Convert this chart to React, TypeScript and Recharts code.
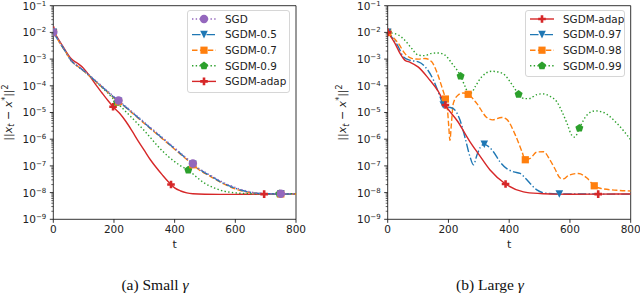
import React from "react";
import { LineChart, Line, XAxis, YAxis, ReferenceArea, Legend } from "recharts";

// (a) small gamma
const sgdT = [0, 20, 40, 60, 80, 100, 120, 140, 160, 180, 200, 215, 240, 260, 280, 300, 320, 340, 360, 380, 400, 420, 440, 460, 480, 500, 520, 540, 560, 580, 600, 620, 640, 660, 680, 700, 750, 800];
const sgdY = [1e-2, 4.6e-3, 2e-3, 8.7e-4, 5.6e-4, 3.8e-4, 2.45e-4, 1.55e-4, 9.8e-5, 6.2e-5, 3.9e-5, 2.8e-5, 1.65e-5, 1.06e-5, 6.8e-6, 4.3e-6, 2.75e-6, 1.78e-6, 1.14e-6, 7.3e-7, 4.7e-7, 3e-7, 1.92e-7, 1.23e-7, 8e-8, 5.8e-8, 4.3e-8, 3.2e-8, 2.4e-8, 1.9e-8, 1.55e-8, 1.3e-8, 1.13e-8, 1.01e-8, 9.5e-9, 9.2e-9, 9e-9, 9e-9];
const sgdm05Y = [1e-2, 4.4e-3, 1.95e-3, 8.5e-4, 5.5e-4, 3.7e-4, 2.35e-4, 1.48e-4, 9.3e-5, 5.9e-5, 3.7e-5, 2.65e-5, 1.56e-5, 1e-5, 6.4e-6, 4.1e-6, 2.6e-6, 1.68e-6, 1.08e-6, 6.9e-7, 4.45e-7, 2.85e-7, 1.82e-7, 1.16e-7, 7.6e-8, 5.5e-8, 4.1e-8, 3e-8, 2.25e-8, 1.8e-8, 1.45e-8, 1.22e-8, 1.07e-8, 9.8e-9, 9.3e-9, 9.1e-9, 8.9e-9, 8.9e-9];
const sgdm07Y = [1e-2, 4.3e-3, 1.9e-3, 8.4e-4, 5.4e-4, 3.6e-4, 2.3e-4, 1.44e-4, 9e-5, 5.7e-5, 3.55e-5, 2.55e-5, 1.5e-5, 9.6e-6, 6.1e-6, 3.9e-6, 2.48e-6, 1.6e-6, 1.03e-6, 6.6e-7, 4.2e-7, 2.7e-7, 1.73e-7, 1.1e-7, 7.2e-8, 5.2e-8, 3.9e-8, 2.85e-8, 2.15e-8, 1.7e-8, 1.38e-8, 1.17e-8, 1.04e-8, 9.6e-9, 9.2e-9, 9e-9, 8.9e-9, 8.9e-9];
const sgdm09T = [0, 20, 40, 60, 80, 100, 120, 140, 160, 180, 200, 210, 220, 240, 260, 280, 300, 320, 340, 360, 380, 400, 420, 445, 470, 500, 530, 560, 600, 650, 700, 745, 800];
const sgdm09Y = [1e-2, 4.4e-3, 1.9e-3, 8.5e-4, 5.4e-4, 3.6e-4, 2.3e-4, 1.42e-4, 8.8e-5, 5.3e-5, 3.1e-5, 2.4e-5, 1.8e-5, 1.05e-5, 6.2e-6, 3.6e-6, 2.1e-6, 1.15e-6, 6.3e-7, 3.6e-7, 2.2e-7, 1.45e-7, 1e-7, 7e-8, 4e-8, 2.2e-8, 1.5e-8, 1.15e-8, 9.8e-9, 9.1e-9, 9e-9, 9e-9, 9e-9];
const adapAT = [0, 15, 30, 45, 60, 80, 100, 120, 140, 160, 180, 197, 220, 240, 260, 280, 300, 320, 340, 360, 388, 400, 420, 440, 460, 500, 550, 600, 650, 695, 750, 800];
const adapAY = [1.2e-2, 6e-3, 3.2e-3, 1.7e-3, 1e-3, 7e-4, 4.5e-4, 2.3e-4, 1.1e-4, 5.5e-5, 2.8e-5, 1.65e-5, 9e-6, 4.5e-6, 2e-6, 8.5e-7, 3.8e-7, 1.7e-7, 8.5e-8, 4.5e-8, 2e-8, 1.5e-8, 1.15e-8, 9.8e-9, 9.1e-9, 8.7e-9, 8.6e-9, 8.6e-9, 8.7e-9, 8.8e-9, 8.9e-9, 9e-9];

// (b) large gamma
const adapBT = [0, 24, 41, 57, 74, 101, 134, 167, 190, 230, 271, 300, 337, 388, 447, 502, 550, 600, 693, 750, 800];
const adapBY = [1e-2, 3.9e-3, 1.6e-3, 9e-4, 7.6e-4, 5e-4, 1.9e-4, 6e-5, 1.9e-5, 4.7e-6, 8e-7, 2.7e-7, 7e-8, 2.1e-8, 1.07e-8, 9.2e-9, 8.8e-9, 8.7e-9, 8.8e-9, 8.9e-9, 8.9e-9];
const sgdm097T = [0, 35, 52, 74, 101, 123, 150, 172, 183, 200, 216, 238, 255, 271, 282, 295, 305, 318, 330, 348, 370, 392, 415, 436, 455, 469, 491, 520, 565, 600, 700, 800];
const sgdm097Y = [1e-2, 2.9e-3, 1.2e-3, 9e-4, 7.9e-4, 5.2e-4, 1.7e-4, 4e-5, 1.9e-5, 1.6e-5, 1.4e-5, 5.2e-6, 1.1e-6, 2.2e-7, 1.1e-7, 2.8e-7, 5e-7, 6.5e-7, 5.5e-7, 3.4e-7, 1.4e-7, 7.9e-8, 6e-8, 5.2e-8, 3.3e-8, 2.2e-8, 1.26e-8, 9.5e-9, 8.9e-9, 8.9e-9, 8.8e-9, 8.8e-9];
const sgdm098T = [0, 35, 57, 79, 101, 123, 145, 161, 178, 190, 197, 201, 205, 209, 216, 232, 249, 265, 293, 326, 345, 375, 392, 420, 442, 453, 469, 491, 513, 535, 550, 568, 580, 595, 628, 656, 680, 700, 755, 800];
const sgdm098Y = [1e-2, 3.9e-3, 1.6e-3, 1.07e-3, 1e-3, 1.05e-3, 7.9e-4, 3.4e-4, 9.3e-5, 3.2e-5, 1.2e-5, 3e-6, 9e-7, 3e-6, 2.2e-5, 4.5e-5, 5.4e-5, 4.8e-5, 2.2e-5, 6.5e-6, 5.3e-6, 6.5e-6, 5.5e-6, 1.45e-6, 3.4e-7, 1.7e-7, 1.9e-7, 3.3e-7, 3.4e-7, 1.6e-7, 8e-8, 3.5e-8, 3.3e-8, 4.4e-8, 5.2e-8, 3.5e-8, 1.8e-8, 1.45e-8, 1.22e-8, 1.15e-8];
const sgdm099T = [0, 35, 57, 79, 101, 123, 145, 167, 189, 211, 240, 255, 266, 276, 288, 310, 343, 376, 414, 431, 450, 465, 491, 510, 535, 557, 575, 590, 606, 616, 631, 656, 683, 711, 754, 800];
const sgdm099Y = [1e-2, 8e-3, 5e-3, 2.5e-3, 1.4e-3, 1.35e-3, 1.65e-3, 1.7e-3, 1.4e-3, 7e-4, 2.3e-4, 9.3e-5, 5.2e-5, 5.5e-5, 9.3e-5, 2.2e-4, 3.5e-4, 3e-4, 9.3e-5, 4.8e-5, 3.3e-5, 3.3e-5, 4.7e-5, 5e-5, 4e-5, 2.5e-5, 1e-5, 4e-6, 1.4e-6, 1.2e-6, 2.6e-6, 8e-6, 1.15e-5, 1e-5, 4e-6, 9.5e-7];

const xTicks = [0, 200, 400, 600, 800];
const yMajor = [1e-9, 1e-8, 1e-7, 1e-6, 1e-5, 1e-4, 1e-3, 1e-2, 1e-1];
const yMinorSteps = [2, 3, 4, 5, 6, 7, 8, 9];
const yTicks = yMajor.flatMap((m, i) => (i < yMajor.length - 1 ? [m, ...yMinorSteps.map((k) => k * m)] : [m]));

const PURPLE = "#9467bd";
const BLUE = "#1f77b4";
const ORANGE = "#ff7f0e";
const GREEN = "#2ca02c";
const RED = "#d62728";

const DOTTED = "1.4 2.3";
const DASHED = "5.5 2.4";
const DASHDOT = "8.5 2.3 1.4 2.3";

const FONT = "DejaVu Sans";
const TEXT = "#222";

type Series = { name: string; color: string; dash?: string; marker: string; t: number[]; v: number[]; marks: number[] };

const seriesA: Series[] = [
  { name: "SGD", color: PURPLE, dash: DOTTED, marker: "o", t: sgdT, v: sgdY, marks: [0, 215, 460, 750] },
  { name: "SGDM-0.5", color: BLUE, dash: DASHDOT, marker: "v", t: sgdT, v: sgdm05Y, marks: [0, 215, 460, 750] },
  { name: "SGDM-0.7", color: ORANGE, dash: DASHED, marker: "s", t: sgdT, v: sgdm07Y, marks: [0, 215, 460, 750] },
  { name: "SGDM-0.9", color: GREEN, dash: DOTTED, marker: "p", t: sgdm09T, v: sgdm09Y, marks: [0, 210, 445, 745] },
  { name: "SGDM-adap", color: RED, marker: "P", t: adapAT, v: adapAY, marks: [0, 197, 388, 695] },
];

const seriesB: Series[] = [
  { name: "SGDM-adap", color: RED, marker: "P", t: adapBT, v: adapBY, marks: [0, 190, 388, 693] },
  { name: "SGDM-0.97", color: BLUE, dash: DASHDOT, marker: "v", t: sgdm097T, v: sgdm097Y, marks: [0, 183, 318, 565] },
  { name: "SGDM-0.98", color: ORANGE, dash: DASHED, marker: "s", t: sgdm098T, v: sgdm098Y, marks: [0, 190, 265, 453, 680] },
  { name: "SGDM-0.99", color: GREEN, dash: DOTTED, marker: "p", t: sgdm099T, v: sgdm099Y, marks: [0, 240, 431, 631] },
];

function Marker({ kind, cx, cy, color }: { kind: string; cx: number; cy: number; color: string }) {
  if (kind === "o") return <circle cx={cx} cy={cy} r={4.2} fill={color} />;
  if (kind === "v") {
    const h = 3.8;
    return <polygon points={`${cx - h},${cy - h} ${cx + h},${cy - h} ${cx},${cy + h}`} fill={color} />;
  }
  if (kind === "s") return <rect x={cx - 3.6} y={cy - 3.6} width={7.2} height={7.2} fill={color} />;
  if (kind === "p") {
    const pts = [0, 1, 2, 3, 4]
      .map((i) => {
        const a = -Math.PI / 2 + (i * 2 * Math.PI) / 5;
        return `${cx + 4.2 * Math.cos(a)},${cy + 4.2 * Math.sin(a)}`;
      })
      .join(" ");
    return <polygon points={pts} fill={color} />;
  }
  // filled plus
  const a = 3.8;
  const b = 1.3;
  return (
    <path
      d={`M${cx - b},${cy - a}H${cx + b}V${cy - b}H${cx + a}V${cy + b}H${cx + b}V${cy + a}H${cx - b}V${cy + b}H${cx - a}V${cy - b}H${cx - b}Z`}
      fill={color}
    />
  );
}

function YTick(props: any) {
  const { x, y, payload } = props;
  const v = payload.value;
  const lg = Math.log10(v);
  const e = Math.round(lg);
  const major = Math.abs(lg - e) < 1e-6;
  const ax = x + 7;
  return (
    <g>
      <line x1={ax} x2={ax - (major ? 3.5 : 2)} y1={y} y2={y} stroke="#000" strokeWidth={major ? 0.8 : 0.6} />
      {major && (
        <text x={x} y={y} dy="0.38em" textAnchor="end" fontFamily={FONT} fontSize={10.5} fill={TEXT}>
          10
          <tspan fontSize={7} dy={-4}>
            {"\u2212" + -e}
          </tspan>
        </text>
      )}
    </g>
  );
}

function YLabel({ x, y }: { x: number; y: number }) {
  return (
    <text transform={`translate(${x},${y}) rotate(-90)`} textAnchor="middle" dy="0.35em" fontFamily={FONT} fontSize={11} fill={TEXT}>
      ||<tspan fontStyle="italic">x</tspan>
      <tspan fontStyle="italic" fontSize={8} dy={2.5}>
        t
      </tspan>
      <tspan dy={-2.5}>{" \u2212 "}</tspan>
      <tspan fontStyle="italic">x</tspan>
      <tspan fontSize={8} dy={-4}>
        *
      </tspan>
      <tspan dy={4}>||</tspan>
      <tspan fontSize={8} dy={-4}>
        2
      </tspan>
    </text>
  );
}

function LegendBox({ items, w, h }: { items: Series[]; w: number; h: number }) {
  return (
    <svg width={w} height={h} style={{ display: "block" }}>
      <rect x={0.5} y={0.5} width={w - 1} height={h - 1} rx={2.5} fill="#fff" fillOpacity={0.8} stroke="#ccc" strokeWidth={0.8} />
      {items.map((s, i) => {
        const cy = 9 + i * 15.6;
        return (
          <g key={s.name}>
            <line x1={5} x2={29} y1={cy} y2={cy} stroke={s.color} strokeWidth={1.4} strokeDasharray={s.dash} />
            <Marker kind={s.marker} cx={17} cy={cy} color={s.color} />
            <text x={38} y={cy} dy="0.36em" fontFamily={FONT} fontSize={10.4} fill={TEXT}>
              {s.name}
            </text>
          </g>
        );
      })}
    </svg>
  );
}

function Panel({ left, yw, rm, series, legend }: { left: number; yw: number; rm: number; series: Series[]; legend: { x: number; y: number; w: number; h: number } }) {
  const drawOrder = [...series].reverse();
  return (
    <div style={{ position: "absolute", left, top: 0 }}>
      <LineChart width={320} height={260} margin={{ top: 5.7, right: rm, bottom: 10.7, left: 0 }}>
        <XAxis
          dataKey="t"
          type="number"
          domain={[0, 800]}
          ticks={xTicks}
          allowDataOverflow
          height={30}
          tickSize={3.5}
          tickMargin={3}
          axisLine={false}
          tickLine={{ stroke: "#000", strokeWidth: 0.8 }}
          tick={{ fontSize: 10.5, fill: TEXT, fontFamily: FONT }}
          label={{ value: "t", position: "insideBottom", offset: 1, fontSize: 11, fill: TEXT, fontFamily: FONT }}
        />
        <YAxis
          type="number"
          scale="log"
          domain={[1e-9, 1e-1]}
          allowDataOverflow
          ticks={yTicks}
          interval={0}
          width={yw}
          tickSize={3.5}
          tickMargin={3.5}
          axisLine={false}
          tickLine={false}
          tick={(p: any) => <YTick {...p} />}
          label={() => <YLabel x={yw - 45.5} y={112.5} />}
        />
        {drawOrder.map((s) => (
          <Line
            key={s.name}
            data={s.t.map((t, i) => ({ t, v: s.v[i] }))}
            dataKey="v"
            name={s.name}
            type="monotone"
            stroke={s.color}
            strokeWidth={1.4}
            strokeDasharray={s.dash}
            isAnimationActive={false}
            activeDot={false}
            dot={(p: any) =>
              s.marks.includes(p.payload.t) ? (
                <Marker key={p.index} kind={s.marker} cx={p.cx} cy={p.cy} color={s.color} />
              ) : (
                <g key={p.index} />
              )
            }
          />
        ))}
        <ReferenceArea x1={0} x2={800} y1={1e-9} y2={1e-1} fill="none" stroke="#000" strokeWidth={0.8} ifOverflow="visible" />
        <Legend
          layout="vertical"
          align="center"
          verticalAlign="middle"
          wrapperStyle={{ left: legend.x, top: legend.y, width: legend.w, height: legend.h }}
          content={() => <LegendBox items={series} w={legend.w} h={legend.h} />}
        />
      </LineChart>
    </div>
  );
}

export default function App() {
  const cap: React.CSSProperties = {
    position: "absolute",
    top: 276,
    width: 200,
    textAlign: "center",
    fontFamily: "Liberation Serif",
    fontSize: 15.5,
    color: "#111",
    whiteSpace: "nowrap",
  };
  return (
    <div style={{ position: "absolute", left: 0, top: 0, width: 640, height: 294, background: "#fff", overflow: "hidden" }}>
      <Panel left={0} yw={53.3} rm={24} series={seriesA} legend={{ x: 187, y: 10, w: 103, h: 83 }} />
      <Panel left={320} yw={67.7} rm={9.3} series={seriesB} legend={{ x: 205, y: 10, w: 100, h: 67 }} />
      <div style={{ ...cap, left: 55 }}>
        (a) Small <i>γ</i>
      </div>
      <div style={{ ...cap, left: 390 }}>
        (b) Large <i>γ</i>
      </div>
    </div>
  );
}
